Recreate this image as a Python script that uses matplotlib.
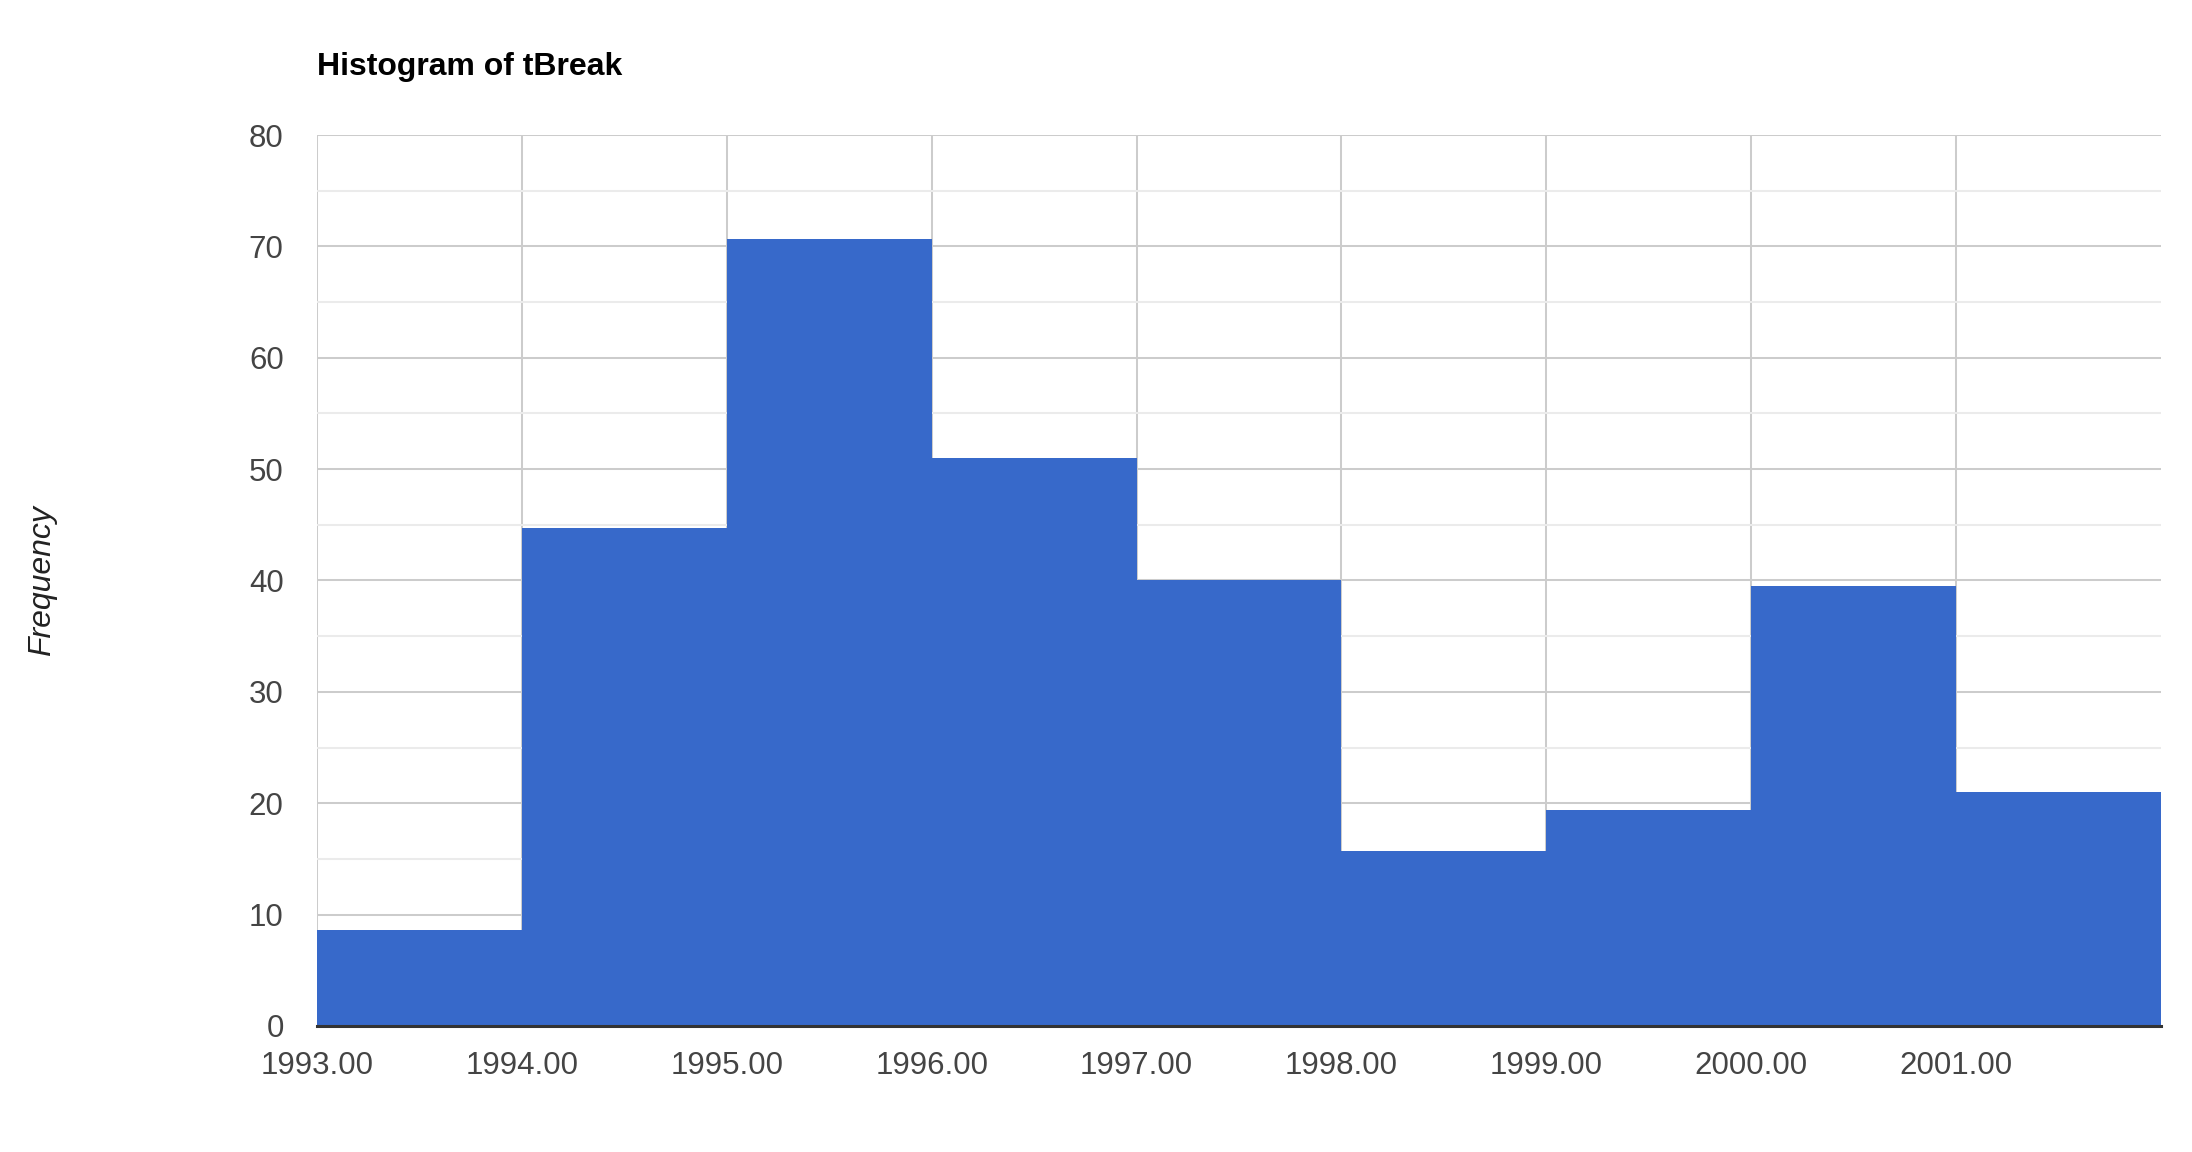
import numpy as np
import matplotlib
matplotlib.use("Agg")
import matplotlib.pyplot as plt
from matplotlib.ticker import MultipleLocator

# histogram bins (years) and bar heights
bin_starts = [1993, 1994, 1995, 1996, 1997, 1998, 1999, 2000, 2001]
counts = [8.6, 44.7, 70.7, 51.0, 40.0, 15.7, 19.4, 39.5, 21.0]
x_ticks = [1993, 1994, 1995, 1996, 1997, 1998, 1999, 2000, 2001]
y_ticks = [0, 10, 20, 30, 40, 50, 60, 70, 80]

plt.rcParams['font.family'] = ['Liberation Sans', 'DejaVu Sans']

fig = plt.figure(figsize=(21.92, 11.52), dpi=100)
ax = fig.add_axes([0.1446, 0.1094, 0.8413, 0.7734])

ax.bar(bin_starts, counts, width=1.0, align='edge', color='#3769ca', linewidth=0, zorder=2)

ax.set_xlim(1993, 2002)
ax.set_ylim(0, 80)
ax.set_xticks(x_ticks)
ax.set_xticklabels([f"{v:.2f}" for v in x_ticks])
ax.set_yticks(y_ticks)
ax.yaxis.set_minor_locator(MultipleLocator(5))

ax.set_axisbelow(True)
ax.grid(which='major', axis='both', color='#cccccc', linewidth=1.45, zorder=0)
ax.grid(which='minor', axis='y', color='#ebebeb', linewidth=1.45, zorder=0)

for side in ['top', 'right', 'left']:
    ax.spines[side].set_visible(False)
ax.spines['bottom'].set_color('#333333')
ax.spines['bottom'].set_linewidth(2.2)
ax.spines['bottom'].set_zorder(3)

ax.tick_params(axis='both', which='both', length=0, labelsize=22.5, labelcolor='#444444')
ax.tick_params(axis='y', pad=24)
ax.tick_params(axis='x', pad=18)

ax.set_ylabel("Frequency", fontsize=23, style='italic', color='#222222', labelpad=0)
ax.yaxis.set_label_coords(-0.141, 0.5)

fig.text(0.1446, 0.942, "Histogram of tBreak", fontsize=23, fontweight='bold', color='#000000',
         ha='left', va='center')

fig.savefig("out.png", dpi=100)
